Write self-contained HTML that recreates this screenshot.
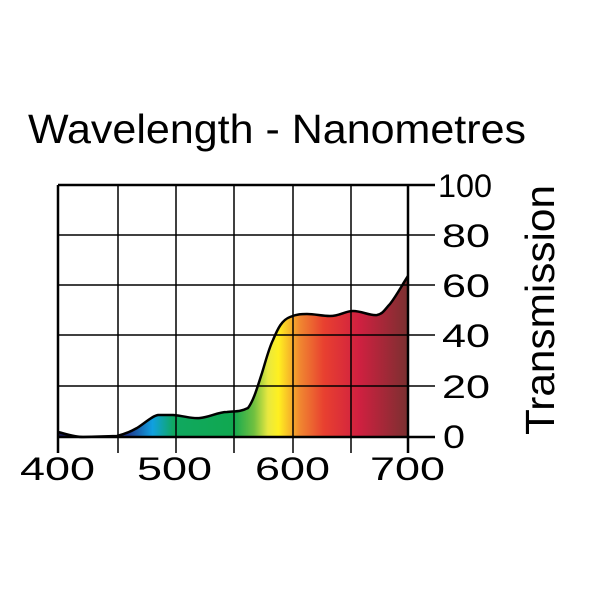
<!DOCTYPE html>
<html><head><meta charset="utf-8"><style>body{margin:0;background:#fff}</style></head>
<body>
<svg width="600" height="600" xmlns="http://www.w3.org/2000/svg" font-family="Liberation Sans, sans-serif">
<defs>
<linearGradient id="g" gradientUnits="userSpaceOnUse" x1="58" y1="0" x2="408" y2="0">
<stop offset="0" stop-color="#1a1a50"/>
<stop offset="0.2" stop-color="#1e3a90"/>
<stop offset="0.27" stop-color="#10a0e0"/>
<stop offset="0.33" stop-color="#10a860"/>
<stop offset="0.5" stop-color="#10a850"/>
<stop offset="0.56" stop-color="#70c040"/>
<stop offset="0.6" stop-color="#e8e840"/>
<stop offset="0.63" stop-color="#fff020"/>
<stop offset="0.69" stop-color="#f08830"/>
<stop offset="0.76" stop-color="#e84030"/>
<stop offset="0.86" stop-color="#d02040"/>
<stop offset="1" stop-color="#7a3030"/>
</linearGradient>
</defs>
<path d="M58,432 C66,434 75,437 83,437 L117,436 C125,434 130,432 137,428 C145,423 152,416 158,415 L173,415 C185,416 192,419 200,418 C210,417 218,412 227,412 C235,411 240,412 248,408 C254,400 258,385 262,373 C266,360 269,348 273,340 C278,328 282,320 290,317 C297,314 302,314 307,314 C315,314 322,316 330,316 C340,316 345,311 353,311 C362,311 370,316 377,315 C383,314 385,309 390,304 C397,295 402,285 408,276 L408,437 L58,437 Z" fill="url(#g)"/>
<g stroke="#000" stroke-width="1.5" fill="none">
<line x1="58" y1="235" x2="435" y2="235"/>
<line x1="58" y1="285" x2="435" y2="285"/>
<line x1="58" y1="335" x2="435" y2="335"/>
<line x1="58" y1="386" x2="435" y2="386"/>
<line x1="118" y1="185" x2="118" y2="453"/>
<line x1="176" y1="185" x2="176" y2="453"/>
<line x1="234" y1="185" x2="234" y2="453"/>
<line x1="293" y1="185" x2="293" y2="453"/>
<line x1="351" y1="185" x2="351" y2="453"/>
</g>
<g stroke="#000" stroke-width="2.5" fill="none">
<line x1="58" y1="185" x2="435" y2="185"/>
<line x1="58" y1="437" x2="435" y2="437"/>
<line x1="58" y1="185" x2="58" y2="453"/>
<line x1="408" y1="185" x2="408" y2="453"/>
<path d="M58,432 C66,434 75,437 83,437 L117,436 C125,434 130,432 137,428 C145,423 152,416 158,415 L173,415 C185,416 192,419 200,418 C210,417 218,412 227,412 C235,411 240,412 248,408 C254,400 258,385 262,373 C266,360 269,348 273,340 C278,328 282,320 290,317 C297,314 302,314 307,314 C315,314 322,316 330,316 C340,316 345,311 353,311 C362,311 370,316 377,315 C383,314 385,309 390,304 C397,295 402,285 408,276"/>
</g>
<text x="28" y="143" font-size="41" textLength="498" lengthAdjust="spacingAndGlyphs">Wavelength - Nanometres</text>
<g font-size="32">
<text x="438" y="197" textLength="54" lengthAdjust="spacingAndGlyphs">100</text>
<text x="442" y="247" textLength="48" lengthAdjust="spacingAndGlyphs">80</text>
<text x="442" y="297" textLength="48" lengthAdjust="spacingAndGlyphs">60</text>
<text x="442" y="347" textLength="48" lengthAdjust="spacingAndGlyphs">40</text>
<text x="442" y="398" textLength="48" lengthAdjust="spacingAndGlyphs">20</text>
<text x="443" y="448" textLength="22" lengthAdjust="spacingAndGlyphs">0</text>
</g>
<g font-size="32">
<text x="20" y="480" textLength="75" lengthAdjust="spacingAndGlyphs">400</text>
<text x="137" y="480" textLength="75" lengthAdjust="spacingAndGlyphs">500</text>
<text x="255" y="480" textLength="75" lengthAdjust="spacingAndGlyphs">600</text>
<text x="370" y="480" textLength="75" lengthAdjust="spacingAndGlyphs">700</text>
</g>
<text transform="translate(554,435) rotate(-90)" font-size="41" textLength="250" lengthAdjust="spacingAndGlyphs">Transmission</text>
</svg>
</body></html>
